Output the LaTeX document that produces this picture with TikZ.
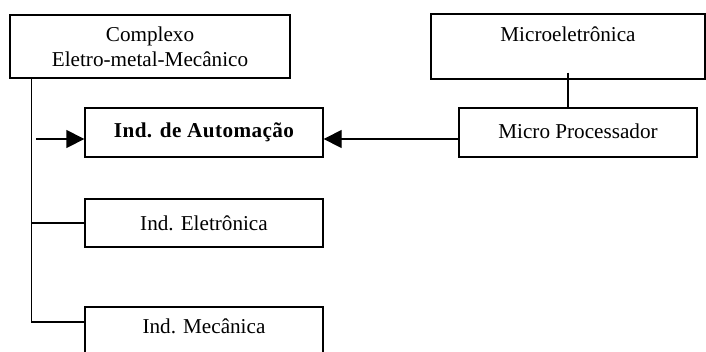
\documentclass[tikz,border=0pt]{standalone}
\usepackage{fontspec}
\setmainfont{Liberation Serif}
\usetikzlibrary{arrows.meta}

\begin{document}
\begin{tikzpicture}[x=0.6pt,y=-0.6pt,line width=0.8pt,
        >={Triangle[length=10.8pt,width=10.8pt]},
        font=\fontsize{12.7}{15}\selectfont,
        box/.style={draw,rectangle,inner sep=0pt,align=center,
            minimum width=142.8pt,minimum height=29.4pt}]
    \useasboundingbox (0,0) rectangle (706,351);
    \clip (0,0) rectangle (706,351);

    \node[box,minimum width=168pt,minimum height=37.8pt] (cem) at (150,46.5)
        {Complexo\\Eletro-metal-Mec\^anico};
    \node[box,minimum width=164.4pt,minimum height=39pt] (micro) at (568,46.5)
        {Microeletr\^onica\\\mbox{}};

    \node[box] (auto) at (204,132.5)
        {\raisebox{2pt}{\bfseries\addfontfeature{LetterSpace=2}Ind. de Automa\c{c}\~ao}};
    \node[box,minimum height=28.8pt] (elet) at (204,223) {Ind. Eletr\^onica};
    \node[box] (mec) at (204,331.5) {\raisebox{6pt}{Ind. Mec\^anica}};
    \node[box] (proc) at (578,132.5) {\raisebox{2pt}{Micro Processador}};

    \coordinate (trunk) at ([xshift=13.2pt]cem.south west);
    \coordinate (feed) at (36,139);

    % tree on the left
    \draw (trunk) |- (elet.west);
    \draw (trunk) |- ([yshift=5.7pt]mec.west);
    \draw[->] (feed) -- (feed -| auto.west);

    % right branch
    \draw ([yshift=4.2pt]micro.south) -- (micro.south |- proc.north);
    \draw[->] ([yshift=-3.9pt]proc.west) -- ([yshift=-3.9pt]auto.east);
\end{tikzpicture}
\end{document}
